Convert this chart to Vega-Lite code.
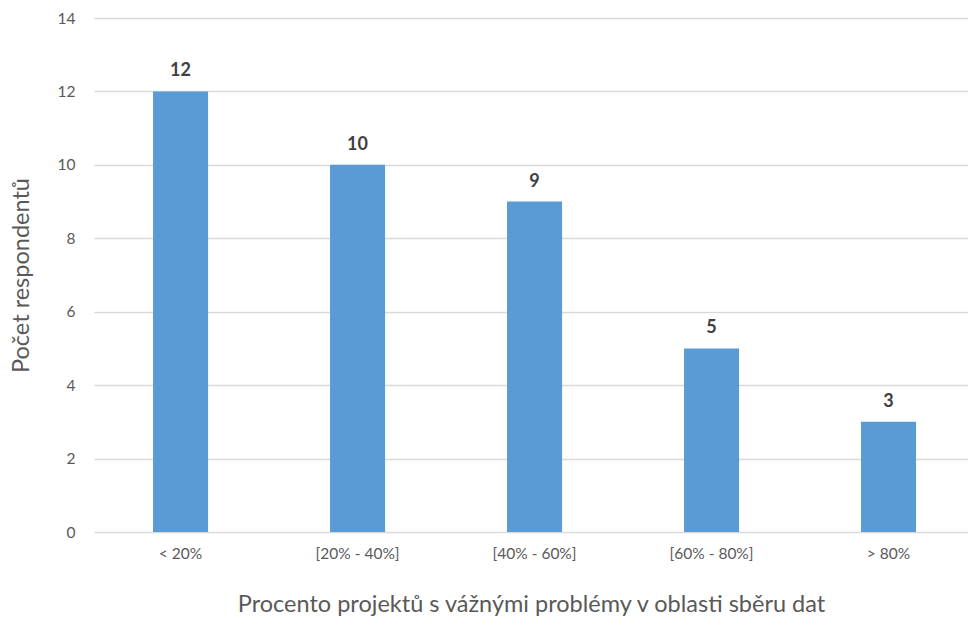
{
  "$schema": "https://vega.github.io/schema/vega-lite/v6.json",
  "width": 874,
  "height": 514,
  "autosize": "none",
  "padding": {"left": 94, "top": 18, "right": 0, "bottom": 90},
  "background": "white",
  "config": {
    "view": {"stroke": null},
    "font": "Lato"
  },
  "data": {
    "values": [
      {"kategorie": "< 20%", "pocet": 12},
      {"kategorie": "[20% - 40%]", "pocet": 10},
      {"kategorie": "[40% - 60%]", "pocet": 9},
      {"kategorie": "[60% - 80%]", "pocet": 5},
      {"kategorie": "> 80%", "pocet": 3}
    ]
  },
  "encoding": {
    "x": {
      "field": "kategorie",
      "type": "nominal",
      "sort": null,
      "scale": {"paddingInner": 0.689, "paddingOuter": 0.3135, "align": 0.532},
      "axis": {
        "title": "Procento projektů s vážnými problémy v oblasti sběru dat",
        "titleFont": "Lato",
        "titleFontSize": 23.5,
        "titleFontWeight": "normal",
        "titleColor": "#595959",
        "titlePadding": 31,
        "labelAngle": 0,
        "labelFontSize": 15.5,
        "labelColor": "#595959",
        "labelPadding": 14,
        "ticks": false,
        "domain": false
      }
    },
    "y": {
      "field": "pocet",
      "type": "quantitative",
      "scale": {"domain": [0, 14]},
      "axis": {
        "title": "Počet respondentů",
        "titleFont": "Lato",
        "titleFontSize": 23.5,
        "titleFontWeight": "normal",
        "titleColor": "#595959",
        "titlePadding": 24,
        "values": [0, 2, 4, 6, 8, 10, 12, 14],
        "labelFontSize": 15.5,
        "labelColor": "#595959",
        "labelPadding": 19,
        "ticks": false,
        "domain": false,
        "gridColor": "#d9d9d9",
        "gridWidth": 1.5
      }
    }
  },
  "layer": [
    {
      "mark": {"type": "bar", "color": "#5b9bd5"}
    },
    {
      "mark": {
        "type": "text",
        "dy": -20,
        "fontSize": 18,
        "fontWeight": "bold",
        "color": "#404040"
      },
      "encoding": {"text": {"field": "pocet", "type": "quantitative"}}
    }
  ]
}
